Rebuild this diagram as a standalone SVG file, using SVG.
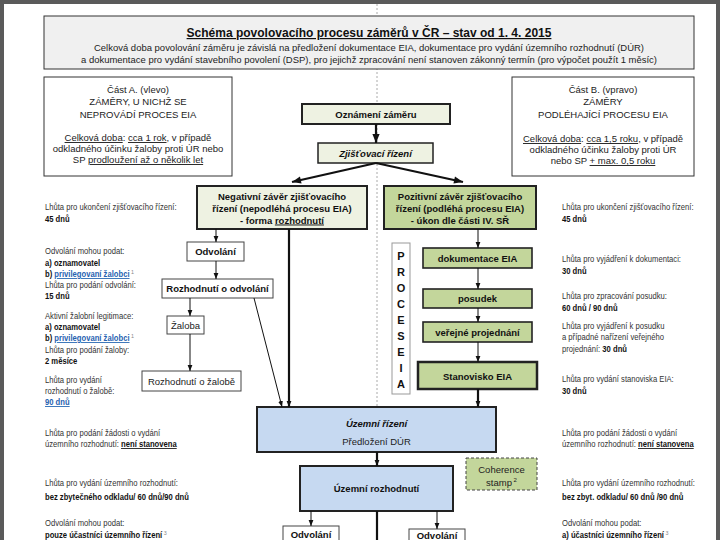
<svg xmlns="http://www.w3.org/2000/svg" width="720" height="540" viewBox="0 0 720 540">
<defs>
<style>
text{font-family:"Liberation Sans",Arial,sans-serif;}
.c{text-anchor:middle;}
.bx{font-size:9.5px;fill:#222;}
.bb{font-size:9.5px;font-weight:bold;fill:#111;text-anchor:middle;}
.side{font-size:8.5px;fill:#333;}
.b{font-weight:bold;fill:#111;}
.lnk{font-weight:bold;fill:#1f62b0;text-decoration:underline;}
.u{text-decoration:underline;}
.sup{fill:#888;font-weight:normal;}
.thin{stroke:#111;stroke-width:1;fill:none;}
.thick{stroke:#111;stroke-width:2.2;fill:none;}
.pale{fill:#eef2e2;stroke:#222;stroke-width:2;}
.grn{fill:#c3d69b;stroke:#222;stroke-width:1.6;}
.blu{fill:#c6d9f1;stroke:#222;stroke-width:2;}
.wb{fill:#fff;stroke:#444;stroke-width:1;}
</style>
<marker id="ah" viewBox="0 0 10 10" refX="10" refY="5" markerWidth="6" markerHeight="6" markerUnits="userSpaceOnUse" orient="auto"><path d="M0,1 L10,5 L0,9 z" fill="#111"/></marker>
<marker id="ahb" viewBox="0 0 10 10" refX="10" refY="5" markerWidth="10" markerHeight="9" markerUnits="userSpaceOnUse" orient="auto"><path d="M0,1 L10,5 L0,9 z" fill="#111"/></marker>
</defs>
<rect x="0" y="0" width="720" height="540" fill="#fff"/>
<path d="M2,542 L2,2 L718,2 L718,542" fill="none" stroke="#5a5a5a" stroke-width="4"/>
<line x1="377" y1="4" x2="377" y2="407" stroke="#aaa" stroke-width="1" stroke-dasharray="2,2"/>

<g id="title">
<rect x="44" y="16" width="650" height="53" fill="#f0f0f0" stroke="#333" stroke-width="1"/>
<text x="369" y="37" class="c u" font-size="12" font-weight="bold" fill="#111">Schéma povolovacího procesu záměrů v ČR – stav od 1. 4. 2015</text>
<text x="369" y="51" class="c" font-size="9.3" fill="#222" textLength="550" lengthAdjust="spacingAndGlyphs">Celková doba povolování záměru je závislá na předložení dokumentace EIA, dokumentace pro vydání územního rozhodnutí (DÚR)</text>
<text x="369" y="63" class="c" font-size="9.3" fill="#222" textLength="576" lengthAdjust="spacingAndGlyphs">a  dokumentace pro vydání stavebního povolení (DSP), pro jejichž zpracování není stanoven zákonný termín (pro výpočet použít 1 měsíc)</text>
</g>

<g id="partA">
<rect x="44" y="77" width="188" height="99" fill="#fff" stroke="#333" stroke-width="1"/>
<text class="bx c" x="138" y="93">Část A. (vlevo)</text>
<text class="bx c" x="138" y="105">ZÁMĚRY, U NICHŽ SE</text>
<text class="bx c" x="138" y="118">NEPROVÁDÍ PROCES EIA</text>
<text class="bx c" x="138" y="141"><tspan class="u">Celková doba</tspan>: <tspan class="u">cca 1 rok</tspan>, v případě</text>
<text class="bx c" x="138" y="152">odkladného účinku žaloby proti ÚR nebo</text>
<text class="bx c" x="138" y="163">SP <tspan class="u">prodloužení až o několik let</tspan></text>
</g>

<g id="partB">
<rect x="512" y="77" width="182" height="99" fill="#fff" stroke="#333" stroke-width="1"/>
<text class="bx c" x="603" y="93">Část B. (vpravo)</text>
<text class="bx c" x="603" y="105">ZÁMĚRY</text>
<text class="bx c" x="603" y="118">PODLÉHAJÍCÍ PROCESU EIA</text>
<text class="bx c" x="603" y="142"><tspan class="u">Celková doba</tspan>: <tspan class="u">cca 1,5 roku</tspan>, v případě</text>
<text class="bx c" x="603" y="153">odkladného účinku žaloby proti ÚR</text>
<text class="bx c" x="603" y="164">nebo SP <tspan class="u">+ max. 0,5 roku</tspan></text>
</g>

<g id="oznameni">
<rect x="302" y="104" width="148" height="20" class="pale"/>
<text class="bb" x="376" y="117.5">Oznámení záměru</text>
</g>
<g id="zjistovaci">
<rect x="318" y="143" width="115" height="20" class="pale" style="stroke-width:1.5"/>
<text class="bb" x="375.5" y="156.5" font-style="italic">Zjišťovací řízení</text>
</g>
<g id="negativni">
<rect x="197" y="186" width="170" height="43" class="pale"/>
<text class="bb" x="282" y="199.5">Negativní závěr zjišťovacího</text>
<text class="bb" x="282" y="211.5">řízení (nepodléhá procesu EIA)</text>
<text class="bb" x="282" y="223.5">- forma <tspan class="u">rozhodnutí</tspan></text>
</g>
<g id="pozitivni">
<rect x="384" y="186" width="152" height="43" class="grn" style="stroke-width:2"/>
<text class="bb" x="460" y="199.5">Pozitivní závěr zjišťovacího</text>
<text class="bb" x="460" y="211.5">řízení (podléhá procesu EIA)</text>
<text class="bb" x="460" y="223.5">- úkon dle části IV. SŘ</text>
</g>

<g id="odvolani1">
<rect x="187" y="242" width="57" height="19" class="wb"/>
<text class="bb" x="215.5" y="255" font-size="9">Odvolání</text>
</g>
<g id="rozhodnuti-odvolani">
<rect x="162" y="279" width="111" height="19" class="wb"/>
<text class="bb" x="217.5" y="292" font-size="9">Rozhodnutí o odvolání</text>
</g>
<g id="zaloba">
<rect x="167" y="316" width="37" height="18" class="wb"/>
<text class="bx c" x="185.5" y="328.5">Žaloba</text>
</g>
<g id="rozhodnuti-zalobe">
<rect x="142" y="371" width="99" height="20" class="wb"/>
<text class="bx c" x="191.5" y="384.5">Rozhodnutí o žalobě</text>
</g>

<g id="proces-eia">
<rect x="392" y="243" width="18" height="151" fill="#fff" stroke="#999" stroke-width="1"/>
<g font-size="11" font-weight="bold" fill="#111" text-anchor="middle">
<text x="401" y="259.5">P</text><text x="401" y="275.5">R</text><text x="401" y="291.5">O</text>
<text x="401" y="307.5">C</text><text x="401" y="323.5">E</text><text x="401" y="339.5">S</text>
<text x="401" y="355.5">E</text><text x="401" y="371.5">I</text><text x="401" y="387.5">A</text>
</g>
</g>
<g id="dokumentace">
<rect x="423" y="248" width="109" height="20" class="grn"/>
<text class="bb" x="477.5" y="261.5">dokumentace EIA</text>
</g>
<g id="posudek">
<rect x="423" y="289" width="109" height="19" class="grn"/>
<text class="bb" x="477.5" y="302">posudek</text>
</g>
<g id="projednani">
<rect x="423" y="322" width="109" height="20" class="grn"/>
<text class="bb" x="477.5" y="335.5">veřejné projednání</text>
</g>
<g id="stanovisko">
<rect x="418" y="362" width="119" height="27" class="grn" style="stroke-width:2.5"/>
<text class="bb" x="477.5" y="379.5" font-size="10">Stanovisko EIA</text>
</g>

<g id="uzemni-rizeni">
<rect x="257" y="407" width="239" height="45" class="blu"/>
<text class="bb" x="376.5" y="427" font-style="italic">Územní řízení</text>
<text class="bx c" x="376.5" y="444.5">Předložení DÚR</text>
</g>
<g id="coherence">
<rect x="466" y="458" width="71" height="32" fill="#c3d69b" stroke="#444" stroke-width="1" stroke-dasharray="3,2"/>
<text class="bx c" x="501.5" y="473">Coherence</text>
<text class="bx c" x="501.5" y="486">stamp<tspan font-size="6" dy="-4"> 2</tspan></text>
</g>
<g id="uzemni-rozhodnuti">
<rect x="300" y="466" width="153" height="45" class="blu"/>
<text class="bb" x="376.5" y="492" font-size="10">Územní rozhodnutí</text>
</g>
<g id="odvolani2">
<rect x="283" y="526" width="56" height="20" class="wb"/>
<text class="bb" x="311" y="538" font-size="9">Odvolání</text>
</g>
<g id="odvolani3">
<rect x="409" y="529" width="56" height="20" class="wb"/>
<text class="bb" x="437" y="539" font-size="9">Odvolání</text>
</g>

<g id="connectors">
<line x1="376" y1="124" x2="376" y2="143" class="thick" marker-end="url(#ahb)"/>
<line x1="376" y1="163" x2="292" y2="182" class="thick" stroke-width="2.6" marker-end="url(#ahb)"/>
<line x1="376" y1="163" x2="463" y2="182" class="thick" stroke-width="2.6" marker-end="url(#ahb)"/>
<line x1="216" y1="229" x2="216" y2="242" class="thin" marker-end="url(#ah)"/>
<line x1="216" y1="261" x2="216" y2="279" class="thin" marker-end="url(#ah)"/>
<line x1="190" y1="298" x2="190" y2="316" class="thin" marker-end="url(#ah)"/>
<line x1="190" y1="334" x2="190" y2="371" class="thin" marker-end="url(#ah)"/>
<line x1="254" y1="298" x2="282" y2="407" class="thin" marker-end="url(#ah)"/>
<line x1="289" y1="229" x2="289" y2="407" class="thick" marker-end="url(#ah)"/>
<line x1="478" y1="229" x2="478" y2="248" class="thin" marker-end="url(#ah)"/>
<line x1="478" y1="268" x2="478" y2="289" class="thin" marker-end="url(#ah)"/>
<line x1="478" y1="308" x2="478" y2="322" class="thin" marker-end="url(#ah)"/>
<line x1="478" y1="342" x2="478" y2="362" class="thin" marker-end="url(#ah)"/>
<line x1="478" y1="389" x2="478" y2="407" class="thick" marker-end="url(#ah)"/>
<line x1="377" y1="452" x2="377" y2="466" class="thick" stroke-width="2.6" marker-end="url(#ah)"/>
<line x1="311" y1="511" x2="311" y2="526" class="thin" marker-end="url(#ah)"/>
<line x1="437" y1="511" x2="437" y2="529" class="thin" marker-end="url(#ah)"/>
<line x1="377" y1="511" x2="377" y2="542" class="thick" stroke-width="2.6"/>
</g>

<g id="left-notes" class="side" transform="translate(45,0) scale(0.9,1)">
<text x="0" y="210">Lhůta pro ukončení zjišťovacího řízení:</text>
<text x="0" y="222" class="b">45 dnů</text>
<text x="0" y="254">Odvolání mohou podat:</text>
<text x="0" y="266" class="b">a) oznamovatel</text>
<text x="0" y="277"><tspan class="b">b) </tspan><tspan class="lnk">privilegovaní žalobci</tspan><tspan class="sup" font-size="6" dy="-3"> 1</tspan></text>
<text x="0" y="288">Lhůta pro podání odvolání:</text>
<text x="0" y="299" class="b">15 dnů</text>
<text x="0" y="319">Aktivní žalobní legitimace:</text>
<text x="0" y="330" class="b">a) oznamovatel</text>
<text x="0" y="341"><tspan class="b">b) </tspan><tspan class="lnk">privilegovaní žalobci</tspan><tspan class="sup" font-size="6" dy="-3"> 1</tspan></text>
<text x="0" y="353">Lhůta pro podání žaloby:</text>
<text x="0" y="364" class="b">2 měsíce</text>
<text x="0" y="383">Lhůta pro vydání</text>
<text x="0" y="394">rozhodnutí o žalobě:</text>
<text x="0" y="405" class="lnk">90 dnů</text>
<text x="0" y="436">Lhůta pro podání žádosti o vydání</text>
<text x="0" y="447">územního rozhodnutí: <tspan class="b u">není stanovena</tspan></text>
<text x="0" y="486">Lhůta pro vydání územního rozhodnutí:</text>
<text x="0" y="500" class="b">bez zbytečného odkladu/ 60 dnů/90 dnů</text>
<text x="0" y="526">Odvolání mohou podat:</text>
<text x="0" y="538" class="b">pouze účastníci územního řízení<tspan class="sup" font-size="6" dy="-3"> 3</tspan></text>
</g>

<g id="right-notes" class="side" transform="translate(562,0) scale(0.9,1)">
<text x="0" y="210">Lhůta pro ukončení zjišťovacího řízení:</text>
<text x="0" y="222" class="b">45 dnů</text>
<text x="0" y="262">Lhůta pro vyjádření k dokumentaci:</text>
<text x="0" y="274" class="b">30 dnů</text>
<text x="0" y="299">Lhůta pro zpracování posudku:</text>
<text x="0" y="311" class="b">60 dnů / 90 dnů</text>
<text x="0" y="329">Lhůta pro vyjádření k posudku</text>
<text x="0" y="340">a případné nařízení veřejného</text>
<text x="0" y="352">projednání: <tspan class="b">30 dnů</tspan></text>
<text x="0" y="382">Lhůta pro vydání stanoviska EIA:</text>
<text x="0" y="394" class="b">30 dnů</text>
<text x="0" y="436">Lhůta pro podání žádosti o vydání</text>
<text x="0" y="447">územního rozhodnutí: <tspan class="b u">není stanovena</tspan></text>
<text x="0" y="486">Lhůta pro vydání územního rozhodnutí:</text>
<text x="0" y="500" class="b">bez zbyt. odkladu/ 60 dnů /90 dnů</text>
<text x="0" y="526">Odvolání mohou podat:</text>
<text x="0" y="538" class="b">a) účastníci územního řízení<tspan class="sup" font-size="6" dy="-3"> 3</tspan></text>
</g>
</svg>
